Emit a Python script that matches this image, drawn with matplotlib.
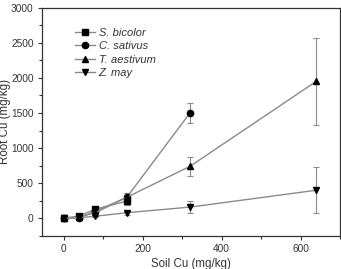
#!/usr/bin/env python3
"""
Root Cu accumulation against soil Cu for four crop species.
"""

import matplotlib.pyplot as plt
from matplotlib.ticker import MultipleLocator

plt.rcParams["font.family"] = ["Liberation Sans", "DejaVu Sans"]

# soil Cu levels (mg/kg)
SOIL_SB = [0, 40, 80, 160]
SOIL_CS = [0, 40, 80, 160, 320]
SOIL_TA = [0, 40, 80, 160, 320, 640]
SOIL_ZM = [0, 40, 80, 160, 320, 640]

# root Cu (mg/kg) and error
ROOT_SB = [0, 35, 130, 245]
ERR_SB = [10, 15, 40, 60]
ROOT_CS = [0, 10, 100, 300, 1500]
ERR_CS = [5, 10, 30, 60, 140]
ROOT_TA = [0, 20, 80, 300, 740, 1950]
ERR_TA = [5, 10, 30, 60, 140, 620]
ROOT_ZM = [0, 10, 30, 80, 160, 400]
ERR_ZM = [5, 5, 15, 30, 90, 325]

LABELS = ["S. bicolor", "C. sativus", "T. aestivum", "Z. may"]
MARKERS = ["s", "o", "^", "v"]

LINE_COLOR = "#8a8a8a"
MARK_COLOR = "black"
TEXT_COLOR = "#333333"


def main() -> None:
    fig = plt.figure(figsize=(3.41, 2.69), dpi=100)
    ax = fig.add_axes([0.123, 0.123, 0.874, 0.849])

    series = [
        (SOIL_SB, ROOT_SB, ERR_SB),
        (SOIL_CS, ROOT_CS, ERR_CS),
        (SOIL_TA, ROOT_TA, ERR_TA),
        (SOIL_ZM, ROOT_ZM, ERR_ZM),
    ]
    handles = []
    for (x, y, e), label, m in zip(series, LABELS, MARKERS):
        ax.errorbar(x, y, yerr=e, fmt="none", ecolor=LINE_COLOR, elinewidth=0.8,
                    capsize=2, capthick=0.8, zorder=2)
        (h,) = ax.plot(x, y, color=LINE_COLOR, linewidth=1.0, marker=m,
                       markersize=4.5, markerfacecolor=MARK_COLOR,
                       markeredgecolor=MARK_COLOR, label=label, zorder=3)
        handles.append(h)

    ax.set_xlim(-55, 700)
    ax.set_ylim(-250, 3000)
    ax.xaxis.set_major_locator(MultipleLocator(200))
    ax.xaxis.set_minor_locator(MultipleLocator(100))
    ax.yaxis.set_major_locator(MultipleLocator(500))
    ax.yaxis.set_minor_locator(MultipleLocator(250))
    ax.tick_params(which="both", direction="out", top=False, right=False,
                   colors=TEXT_COLOR, labelsize=7.3, labelcolor=TEXT_COLOR)
    ax.tick_params(which="major", length=3, width=0.8, pad=3)
    ax.tick_params(which="minor", length=2, width=0.8)
    for sp in ax.spines.values():
        sp.set_color(TEXT_COLOR)
        sp.set_linewidth(0.9)

    ax.set_xlabel("Soil Cu (mg/kg)", fontsize=8.3, color=TEXT_COLOR, labelpad=3)
    ax.set_ylabel("Root Cu (mg/kg)", fontsize=8.3, color=TEXT_COLOR)
    ax.yaxis.set_label_coords(-0.104, 0.5)

    leg = ax.legend(handles=handles, loc="upper left", bbox_to_anchor=(0.095, 0.93),
                    frameon=False, fontsize=8, handlelength=1.8, handletextpad=0.35,
                    labelspacing=0.3, borderaxespad=0.0)
    for t in leg.get_texts():
        t.set_fontstyle("italic")
        t.set_color(TEXT_COLOR)

    fig.savefig("out.png", dpi=100)
    plt.close(fig)


if __name__ == "__main__":
    main()
